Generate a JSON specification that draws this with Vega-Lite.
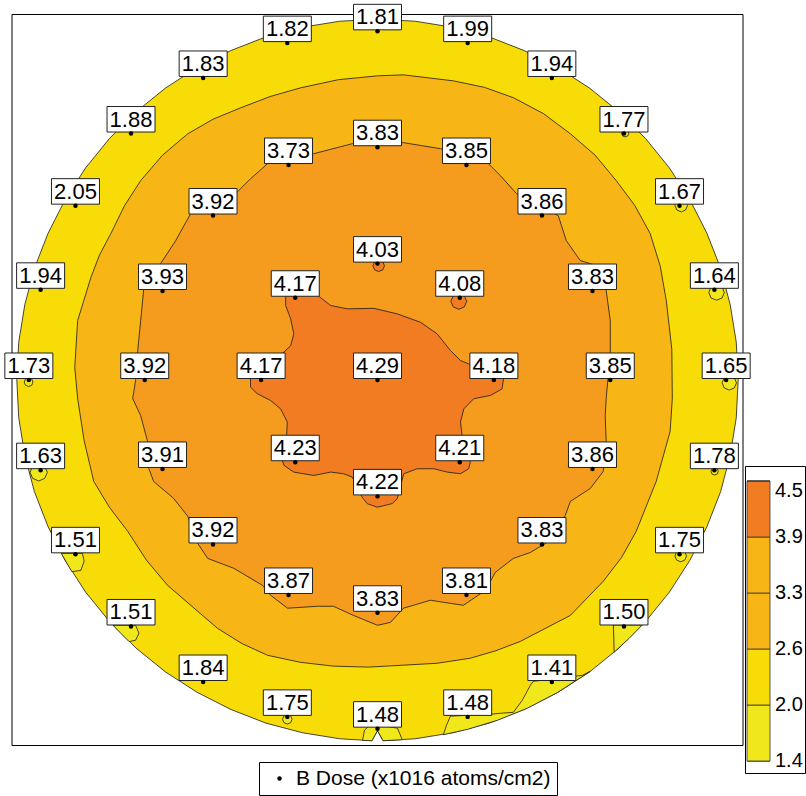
{
  "$schema": "https://vega.github.io/schema/vega-lite/v6.json",
  "width": 731,
  "height": 732,
  "autosize": {"type": "none"},
  "padding": {"left": 12, "top": 14, "right": 63, "bottom": 50},
  "background": "white",
  "config": {"view": {"stroke": null}, "font": "Liberation Sans"},
  "projection": {"type": "identity", "reflectY": true},
  "layer": [
    {
      "data": {
        "values": {
          "type": "FeatureCollection",
          "features": [
            {"type": "Feature", "properties": {"name": "wafer", "level": 2.3}, "geometry": {"type": "Polygon", "coordinates": [[
              [150,0],[149.2,15.7],[146.7,31.2],[142.7,46.4],[137.0,61.0],[129.9,75.0],[121.4,88.2],[111.5,100.4],[100.4,111.5],[88.2,121.4],[75.0,129.9],[61.0,137.0],[46.4,142.7],[31.2,146.7],[15.7,149.2],[0,150],
              [-15.7,149.2],[-31.2,146.7],[-46.4,142.7],[-61.0,137.0],[-75.0,129.9],[-88.2,121.4],[-100.4,111.5],[-111.5,100.4],[-121.4,88.2],[-129.9,75.0],[-137.0,61.0],[-142.7,46.4],[-146.7,31.2],[-149.2,15.7],[-150,0],
              [-149.2,-15.7],[-146.7,-31.2],[-142.7,-46.4],[-137.0,-61.0],[-129.9,-75.0],[-121.4,-88.2],[-111.5,-100.4],[-100.4,-111.5],[-88.2,-121.4],[-75.0,-129.9],[-61.0,-137.0],[-46.4,-142.7],[-31.2,-146.7],[-15.7,-149.2],
              [-2.3,-150.0],[0,-145.8],[2.3,-150.0],
              [15.7,-149.2],[31.2,-146.7],[46.4,-142.7],[61.0,-137.0],[75.0,-129.9],[88.2,-121.4],[100.4,-111.5],[111.5,-100.4],[121.4,-88.2],[129.9,-75.0],[137.0,-61.0],[142.7,-46.4],[146.7,-31.2],[149.2,-15.7],[150,0]
            ]]}},
            {"type": "Feature", "properties": {"name": "i150", "level": 1.7}, "geometry": {"type": "Polygon", "coordinates": [[[98.1,-101.9],[98.3,-108.2],[98.4,-113.2],[104.7,-107.4],[110.1,-101.9],[98.1,-101.9]]]}},
            {"type": "Feature", "properties": {"name": "i141", "level": 1.7}, "geometry": {"type": "Polygon", "coordinates": [[[27.4,-147.5],[28.7,-143.6],[30.3,-139.8],[47.0,-139.0],[51.1,-138.6],[56.5,-138.2],[60.2,-133.2],[63.6,-126.9],[64.8,-125.3],[82.3,-123.2],[85.2,-122.8],[88.4,-121.2],[74.8,-130.0],[62.3,-136.5],[49.9,-141.5],[37.4,-145.3],[27.4,-147.5]]]}},
            {"type": "Feature", "properties": {"name": "i148", "level": 1.7}, "geometry": {"type": "Polygon", "coordinates": [[[-6.2,-149.9],[-5.4,-145.6],[-3.7,-144.0],[3.7,-144.0],[8.3,-144.8],[10.3,-149.6],[2.3,-150.0],[0,-145.8],[-2.3,-150.0],[-6.2,-149.9]]]}},
            {"type": "Feature", "properties": {"name": "i151a", "level": 1.7}, "geometry": {"type": "Polygon", "coordinates": [[[-110.0,-102.0],[-100.6,-102.0],[-99.2,-105.3],[-100.6,-108.2],[-103.3,-108.8],[-106.8,-105.3],[-110.0,-102.0]]]}},
            {"type": "Feature", "properties": {"name": "i151b", "level": 1.7}, "geometry": {"type": "Polygon", "coordinates": [[[-131.5,-72.1],[-122.7,-72.1],[-122.0,-75.4],[-123.4,-79.2],[-127.1,-79.7],[-129.4,-75.8],[-131.5,-72.1]]]}},
            {"type": "Feature", "properties": {"name": "i167", "level": 1.7}, "geometry": {"type": "Polygon", "coordinates": [[[128.9,72.5],[128.1,74.3],[126.3,75.1],[124.5,74.3],[123.7,72.5],[124.5,70.7],[126.3,69.9],[128.1,70.7],[128.9,72.5]]]}},
            {"type": "Feature", "properties": {"name": "i164", "level": 1.7}, "geometry": {"type": "Polygon", "coordinates": [[[144.2,36.4],[143.3,38.7],[141.0,39.6],[138.7,38.7],[137.8,36.4],[138.7,34.1],[141.0,33.2],[143.3,34.1],[144.2,36.4]]]}},
            {"type": "Feature", "properties": {"name": "i165", "level": 1.7}, "geometry": {"type": "Polygon", "coordinates": [[[149.3,-1.2],[148.4,0.9],[146.3,1.8],[144.2,0.9],[143.3,-1.2],[144.2,-3.3],[146.3,-4.2],[148.4,-3.3],[149.3,-1.2]]]}},
            {"type": "Feature", "properties": {"name": "i178", "level": 1.7}, "geometry": {"type": "Polygon", "coordinates": [[[141.7,-38.0],[141.3,-36.9],[140.2,-36.5],[139.1,-36.9],[138.7,-38.0],[139.1,-39.1],[140.2,-39.5],[141.3,-39.1],[141.7,-38.0]]]}},
            {"type": "Feature", "properties": {"name": "i175", "level": 1.7}, "geometry": {"type": "Polygon", "coordinates": [[[128.5,-73.2],[127.8,-71.5],[126.1,-70.8],[124.4,-71.5],[123.7,-73.2],[124.4,-74.9],[126.1,-75.6],[127.8,-74.9],[128.5,-73.2]]]}},
            {"type": "Feature", "properties": {"name": "i177", "level": 1.7}, "geometry": {"type": "Polygon", "coordinates": [[[104.5,102.6],[104.1,103.7],[103.0,104.1],[101.9,103.7],[101.5,102.6],[101.9,101.5],[103.0,101.1],[104.1,101.5],[104.5,102.6]]]}},
            {"type": "Feature", "properties": {"name": "i173", "level": 1.7}, "geometry": {"type": "Polygon", "coordinates": [[[-143.3,-0.9],[-143.8,0.4],[-145.1,0.9],[-146.4,0.4],[-146.9,-0.9],[-146.4,-2.2],[-145.1,-2.7],[-143.8,-2.2],[-143.3,-0.9]]]}},
            {"type": "Feature", "properties": {"name": "i163", "level": 1.7}, "geometry": {"type": "Polygon", "coordinates": [[[-137.3,-38.4],[-138.4,-35.9],[-140.9,-34.8],[-143.4,-35.9],[-144.5,-38.4],[-143.4,-40.9],[-140.9,-42.0],[-138.4,-40.9],[-137.3,-38.4]]]}},
            {"type": "Feature", "properties": {"name": "i175b", "level": 1.7}, "geometry": {"type": "Polygon", "coordinates": [[[-35.5,-141.1],[-36.1,-139.7],[-37.5,-139.1],[-38.9,-139.7],[-39.5,-141.1],[-38.9,-142.5],[-37.5,-143.1],[-36.1,-142.5],[-35.5,-141.1]]]}},
            {"type": "Feature", "properties": {"name": "c264", "level": 2.95}, "geometry": {"type": "Polygon", "coordinates": [[
              [0,126.5],[10.8,126.9],[31.6,124.4],[44.5,121.7],[56.5,117.4],[69.0,110.8],[80.2,102.4],[90.5,93.5],[99.3,82.9],[107.0,72.6],[113.4,60.9],[117.6,47.3],[120.1,33.0],[122.4,12.8],[122.6,-7.7],[121.7,-21.4],[115.9,-42.2],[107.6,-62.9],[101.5,-73.8],[93.9,-83.7],[80.2,-97.9],[59.4,-108.7],[49.2,-112.6],[38.6,-115.7],[24.8,-117.8],[10.8,-118.6],[-3.8,-119.4],[-18.3,-119.0],[-32.1,-117.4],[-45.7,-114.5],[-56.4,-109.6],[-66.5,-103.3],[-87.3,-85.4],[-96.1,-74.9],[-103.9,-62.9],[-111.5,-52.9],[-118.0,-42.2],[-122.0,-25.2],[-124.7,-7.7],[-125.9,5.2],[-124.7,24.7],[-119.2,42.6],[-115.6,52.0],[-110.9,60.9],[-105.2,72.5],[-98.5,82.9],[-89.4,93.5],[-78.9,102.4],[-68.3,108.5],[-56.9,113.2],[-44.6,117.9],[-32.0,121.5],[-16.2,124.9],[0,126.5]
            ]]}},
            {"type": "Feature", "properties": {"name": "c326", "level": 3.57}, "geometry": {"type": "Polygon", "coordinates": [[
              [0,99.5],[10.8,98.7],[26.2,96.2],[38.6,93.3],[46.1,90.0],[51.1,85.0],[57.8,77.5],[67.7,72.5],[75.2,68.3],[78.5,58.0],[84.3,49.7],[93.9,46.7],[95.1,37.2],[96.8,24.7],[96.8,11.0],[95.1,-7.7],[94.7,-14.8],[95.1,-25.6],[93.9,-38.0],[88.5,-45.1],[80.2,-50.5],[78.1,-56.3],[71.9,-66.7],[63.6,-71.7],[56.5,-74.2],[49.0,-80.0],[44.9,-87.5],[35.7,-93.7],[22.0,-91.6],[10.8,-94.9],[5.4,-100.8],[0,-102.0],[-10.0,-97.9],[-18.3,-94.1],[-24.9,-94.1],[-37.4,-94.9],[-44.5,-89.5],[-47.8,-85.4],[-59.8,-78.3],[-70.6,-74.2],[-74.8,-67.9],[-78.9,-56.7],[-84.8,-49.2],[-93.1,-42.2],[-95.1,-36.8],[-95.6,-25.6],[-98.5,-14.8],[-101.8,-7.7],[-100.6,-0.2],[-99.7,12.3],[-98.5,24.7],[-97.2,38.0],[-94.3,43.4],[-90.2,48.4],[-83.9,58.0],[-77.7,69.2],[-69.4,76.7],[-59.0,77.5],[-52.8,83.7],[-45.7,90.0],[-36.1,93.3],[-26.6,94.1],[-15.4,97.0],[-10.4,98.3],[0,99.5]
            ]]}},
            {"type": "Feature", "properties": {"name": "c388", "level": 4.2}, "geometry": {"type": "Polygon", "coordinates": [[
              [-38.2,35.1],[-24.8,35.1],[-19.5,31.0],[-12.6,29.6],[-1.5,29.8],[8.2,27.5],[17.9,24.0],[24.8,19.2],[30.3,12.3],[34.5,8.1],[37.9,6.7],[52.4,0.5],[51.8,-3.7],[47.0,-6.4],[40.0,-7.8],[35.9,-12.0],[34.5,-17.5],[35.2,-23.1],[38.6,-34.2],[37.9,-36.9],[34.5,-39.0],[29.0,-38.3],[23.4,-36.9],[16.5,-36.9],[10.9,-39.0],[10.0,-42.5],[8.2,-49.4],[6.1,-51.4],[-0.1,-52.9],[-4.3,-51.4],[-6.4,-48.7],[-10.5,-40.4],[-14.0,-39.0],[-19.5,-38.3],[-26.5,-39.7],[-34.8,-38.3],[-38.9,-35.5],[-39.6,-33.4],[-37.8,-23.1],[-37.5,-17.5],[-40.3,-12.0],[-44.5,-8.5],[-50.0,-5.7],[-52.8,-3.0],[-52.8,0.5],[-38.9,11.6],[-36.1,14.3],[-34.8,19.2],[-36.1,25.4],[-38.2,31.0],[-38.2,35.1]
            ]]}},
            {"type": "Feature", "properties": {"name": "i403", "level": 4.2}, "geometry": {"type": "Polygon", "coordinates": [[[2.9,47.5],[2.2,49.2],[0.5,49.9],[-1.2,49.2],[-1.9,47.5],[-1.2,45.8],[0.5,45.1],[2.2,45.8],[2.9,47.5]]]}},
            {"type": "Feature", "properties": {"name": "i408", "level": 4.2}, "geometry": {"type": "Polygon", "coordinates": [[[37.1,32.7],[36.1,35.0],[33.8,36.0],[31.5,35.0],[30.5,32.7],[31.5,30.4],[33.8,29.4],[36.1,30.4],[37.1,32.7]]]}}
          ]
        },
        "format": {"type": "json", "property": "features"}
      },
      "mark": {"type": "geoshape", "stroke": "#1a1a1a", "strokeWidth": 0.8},
      "encoding": {
        "color": {
          "field": "properties.level",
          "type": "quantitative",
          "scale": {"type": "quantize", "domain": [1.4, 4.5], "nice": false, "zero": false, "range": ["#F0E81A", "#F8DC08", "#F8B616", "#F59B1E", "#F27C22"]},
          "legend": {
            "type": "gradient",
            "direction": "vertical",
            "orient": "none",
            "legendX": 733,
            "legendY": 452,
            "title": " ",
            "titleFontSize": 10,
            "titlePadding": 3,
            "values": [1.4, 1.4001, 2.02, 2.64, 3.26, 3.88, 4.5],
            "format": ".1f",
            "gradientLength": 280,
            "gradientThickness": 23,
            "gradientStrokeColor": "#333333",
            "gradientStrokeWidth": 0.8,
            "labelFont": "Liberation Sans",
            "labelFontSize": 20,
            "labelColor": "black",
            "labelOffset": 5,
            "labelBaseline": "middle",
            "labelOverlap": false,
            "strokeColor": "black",
            "padding": 2
          }
        }
      }
    },
    {
      "data": {
        "values": {
          "type": "FeatureCollection",
          "features": [
            {"type": "Feature", "properties": {"name": "frame"}, "geometry": {"type": "Polygon", "coordinates": [[[-152,-152],[152,-152],[152,152],[-152,152],[-152,-152]]]}}
          ]
        },
        "format": {"type": "json", "property": "features"}
      },
      "mark": {"type": "geoshape", "filled": false, "stroke": "black", "strokeWidth": 1}
    },
    {
      "data": {
        "values": [
          {"v": 4.29, "x": 0, "y": 0},
          {"v": 4.03, "x": 0, "y": 48.4},
          {"v": 4.08, "x": 34.2, "y": 34.2},
          {"v": 4.18, "x": 48.4, "y": 0},
          {"v": 4.21, "x": 34.2, "y": -34.2},
          {"v": 4.22, "x": 0, "y": -48.4},
          {"v": 4.23, "x": -34.2, "y": -34.2},
          {"v": 4.17, "x": -48.4, "y": 0},
          {"v": 4.17, "x": -34.2, "y": 34.2},
          {"v": 3.83, "x": 0, "y": 96.8},
          {"v": 3.85, "x": 37.0, "y": 89.4},
          {"v": 3.86, "x": 68.4, "y": 68.4},
          {"v": 3.83, "x": 89.4, "y": 37.0},
          {"v": 3.85, "x": 96.8, "y": 0},
          {"v": 3.86, "x": 89.4, "y": -37.0},
          {"v": 3.83, "x": 68.4, "y": -68.4},
          {"v": 3.81, "x": 37.0, "y": -89.4},
          {"v": 3.83, "x": 0, "y": -96.8},
          {"v": 3.87, "x": -37.0, "y": -89.4},
          {"v": 3.92, "x": -68.4, "y": -68.4},
          {"v": 3.91, "x": -89.4, "y": -37.0},
          {"v": 3.92, "x": -96.8, "y": 0},
          {"v": 3.93, "x": -89.4, "y": 37.0},
          {"v": 3.92, "x": -68.4, "y": 68.4},
          {"v": 3.73, "x": -37.0, "y": 89.4},
          {"v": 1.81, "x": 0, "y": 145},
          {"v": 1.99, "x": 37.5, "y": 140.1},
          {"v": 1.94, "x": 72.5, "y": 125.6},
          {"v": 1.77, "x": 102.5, "y": 102.5},
          {"v": 1.67, "x": 125.6, "y": 72.5},
          {"v": 1.64, "x": 140.1, "y": 37.5},
          {"v": 1.65, "x": 145, "y": 0},
          {"v": 1.78, "x": 140.1, "y": -37.5},
          {"v": 1.75, "x": 125.6, "y": -72.5},
          {"v": 1.50, "x": 102.5, "y": -102.5},
          {"v": 1.41, "x": 72.5, "y": -125.6},
          {"v": 1.48, "x": 37.5, "y": -140.1},
          {"v": 1.48, "x": 0, "y": -145},
          {"v": 1.75, "x": -37.5, "y": -140.1},
          {"v": 1.84, "x": -72.5, "y": -125.6},
          {"v": 1.51, "x": -102.5, "y": -102.5},
          {"v": 1.51, "x": -125.6, "y": -72.5},
          {"v": 1.63, "x": -140.1, "y": -37.5},
          {"v": 1.73, "x": -145, "y": 0},
          {"v": 1.94, "x": -140.1, "y": 37.5},
          {"v": 2.05, "x": -125.6, "y": 72.5},
          {"v": 1.88, "x": -102.5, "y": 102.5},
          {"v": 1.83, "x": -72.5, "y": 125.6},
          {"v": 1.82, "x": -37.5, "y": 140.1}
        ]
      },
      "encoding": {
        "longitude": {"field": "x", "type": "quantitative"},
        "latitude": {"field": "y", "type": "quantitative"}
      },
      "layer": [
        {
          "mark": {"type": "point", "shape": "M-1,-1.125H1V-0.0625H-1Z", "size": 2304, "filled": true, "fill": "white", "stroke": "#222222", "strokeWidth": 1, "opacity": 1}
        },
        {
          "mark": {"type": "text", "font": "Liberation Sans", "fontSize": 22, "baseline": "alphabetic", "align": "center", "dy": -7, "color": "black"},
          "encoding": {"text": {"field": "v", "type": "quantitative", "format": ".2f"}}
        },
        {
          "mark": {"type": "point", "filled": true, "color": "black", "size": 20, "opacity": 1},
          "encoding": {
            "shape": {
              "datum": "B Dose (x1016 atoms/cm2)",
              "scale": {"range": ["circle"]},
              "legend": {
                "orient": "none",
                "legendX": 247,
                "legendY": 748,
                "title": null,
                "strokeColor": "black",
                "padding": 6,
                "labelFont": "Liberation Sans",
                "labelFontSize": 21,
                "labelColor": "black",
                "symbolSize": 20,
                "symbolFillColor": "black",
                "symbolStrokeColor": "black",
                "symbolOffset": 4,
                "labelOffset": 6,
                "labelLimit": 400
              }
            }
          }
        }
      ]
    }
  ]
}
